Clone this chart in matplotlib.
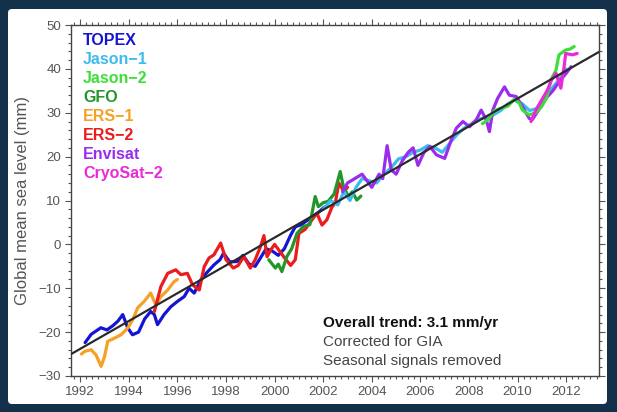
import matplotlib
matplotlib.use("Agg")
import matplotlib.pyplot as plt
from matplotlib.ticker import MultipleLocator
from matplotlib.patches import FancyBboxPatch

plt.rcParams['font.family'] = ['Liberation Sans', 'DejaVu Sans']

# ---------------- data ----------------
topex_t = [1992.2, 1992.45, 1992.85, 1993.1, 1993.35, 1993.55, 1993.75, 1993.95, 1994.15, 1994.4,
           1994.65, 1994.9, 1995.05, 1995.18, 1995.45, 1995.73, 1996.0, 1996.28, 1996.48, 1996.69,
           1996.96, 1997.2, 1997.5, 1997.75, 1997.9, 1998.15, 1998.46, 1998.7, 1998.95, 1999.2,
           1999.45, 1999.65, 1999.9, 2000.15, 2000.4, 2000.65, 2000.85, 2001.1, 2001.35, 2001.6,
           2001.85, 2002.05]
topex_v = [-22.4, -20.5, -19.0, -19.5, -18.5, -17.5, -16.0, -19.0, -20.6, -20.0,
           -17.0, -15.3, -16.0, -18.3, -16.0, -14.2, -13.0, -11.9, -10.0, -11.1,
           -8.1, -6.5, -4.7, -3.5, -2.0, -4.0, -3.9, -2.5, -4.5, -5.0,
           -2.8, -1.0, -1.5, -2.5, -1.0, 2.0, 4.0, 4.5, 5.5, 6.5,
           7.5, 8.5]

ers1_t = [1992.05, 1992.18, 1992.45, 1992.65, 1992.86, 1993.0, 1993.13, 1993.4, 1993.68, 1993.95,
          1994.16, 1994.36, 1994.63, 1994.9, 1995.11, 1995.32, 1995.6, 1995.86, 1996.0]
ers1_v = [-25.0, -24.4, -24.0, -25.2, -27.8, -25.6, -22.1, -21.4, -20.6, -19.1,
          -17.2, -14.5, -13.0, -11.1, -13.8, -11.9, -10.4, -8.5, -8.0]

ers2_t = [1995.05, 1995.32, 1995.6, 1995.93, 1996.14, 1996.41, 1996.62, 1996.9, 1997.1, 1997.3,
          1997.5, 1997.78, 1998.0, 1998.3, 1998.5, 1998.73, 1999.0, 1999.2, 1999.42, 1999.56,
          1999.69, 1999.85, 2000.0, 2000.2, 2000.4, 2000.66, 2000.85, 2001.0, 2001.25, 2001.5,
          2001.74, 2001.95, 2002.15, 2002.36, 2002.5, 2002.64, 2002.85, 2003.0]
ers2_v = [-15.3, -9.6, -6.6, -5.8, -6.9, -6.6, -9.2, -10.4, -5.1, -3.1,
          -2.4, 0.3, -3.5, -5.4, -4.8, -2.8, -5.4, -3.5, -0.5, 2.0,
          -2.8, -1.2, 0.0, -1.5, -3.0, -4.8, -3.5, 2.5, 3.4, 5.3,
          7.1, 4.4, 5.6, 8.5, 9.5, 14.0, 12.1, 13.0]

gfo_t = [1999.76, 2000.03, 2000.15, 2000.3, 2000.5, 2000.7, 2000.92, 2001.19, 2001.45, 2001.67,
         2001.8, 2002.0, 2002.2, 2002.45, 2002.7, 2002.83, 2003.04, 2003.2, 2003.38, 2003.55]
gfo_v = [-3.5, -5.4, -4.5, -6.2, -2.8, -1.0, 2.5, 4.1, 4.5, 10.9,
         8.6, 9.5, 9.8, 11.5, 16.6, 13.2, 10.9, 12.0, 10.1, 11.0]

jason1_t = [2002.0, 2002.3, 2002.6, 2002.85, 2003.1, 2003.35, 2003.6, 2003.9, 2004.2, 2004.5,
            2004.8, 2005.1, 2005.4, 2005.7, 2006.0, 2006.3, 2006.6, 2006.9, 2007.2, 2007.5,
            2007.8, 2008.1, 2008.4, 2008.7, 2009.0, 2009.3, 2009.6, 2009.9, 2010.2, 2010.5,
            2010.8, 2011.1, 2011.4, 2011.7, 2012.0]
jason1_v = [8.0, 10.0, 9.0, 12.0, 10.0, 13.0, 15.0, 14.5, 14.0, 16.0,
            17.5, 19.5, 20.0, 21.0, 21.5, 22.5, 22.0, 21.0, 23.0, 25.0,
            26.5, 27.5, 28.5, 29.0, 29.5, 30.5, 32.0, 33.0, 32.0, 30.5,
            31.0, 33.5, 35.5, 37.5, 40.0]

envisat_t = [2002.8, 2003.0, 2003.3, 2003.6, 2004.0, 2004.3, 2004.45, 2004.63, 2004.8, 2005.0,
             2005.25, 2005.5, 2005.7, 2005.9, 2006.15, 2006.39, 2006.66, 2007.0, 2007.27, 2007.48,
             2007.75, 2008.02, 2008.3, 2008.5, 2008.71, 2008.84, 2008.98, 2009.18, 2009.46, 2009.66,
             2009.94, 2010.2, 2010.48, 2010.6, 2010.96, 2011.2, 2011.45, 2011.7, 2012.0, 2012.2]
envisat_v = [12.0, 14.0, 15.0, 16.0, 13.0, 16.0, 15.0, 22.5, 17.0, 16.0,
             19.0, 21.0, 22.0, 18.0, 21.0, 22.3, 20.4, 19.6, 23.8, 26.5,
             28.0, 26.8, 28.4, 30.6, 28.4, 25.7, 30.6, 33.3, 35.9, 34.0,
             33.7, 31.4, 28.7, 28.4, 31.4, 33.5, 35.0, 37.0, 39.0, 40.5]

jason2_t = [2008.55, 2008.8, 2009.05, 2009.3, 2009.6, 2009.85, 2010.07, 2010.2, 2010.48, 2010.75,
            2011.0, 2011.2, 2011.37, 2011.58, 2011.7, 2011.98, 2012.15, 2012.33]
jason2_v = [27.5, 28.5, 30.5, 31.0, 31.5, 33.0, 32.2, 30.6, 29.5, 30.0,
            31.5, 33.5, 37.5, 39.7, 43.2, 44.3, 44.5, 45.1]

cryosat_t = [2010.55, 2010.75, 2011.0, 2011.23, 2011.4, 2011.58, 2011.78, 2011.9, 2011.98, 2012.26,
             2012.45]
cryosat_v = [28.0, 30.6, 33.0, 35.2, 37.5, 39.0, 35.6, 40.0, 43.5, 43.2,
             43.5]

missions = ["TOPEX", "Jason\u22121", "Jason\u22122", "GFO", "ERS\u22121", "ERS\u22122", "Envisat", "CryoSat\u22122"]
colors = ["#1414d2", "#3cbcee", "#3ede3a", "#23962a", "#f5a126", "#ea1c1c", "#9a2ced", "#ea2ad6"]
series = [(topex_t, topex_v), (jason1_t, jason1_v), (jason2_t, jason2_v), (gfo_t, gfo_v),
          (ers1_t, ers1_v), (ers2_t, ers2_v), (envisat_t, envisat_v), (cryosat_t, cryosat_v)]
draw_order = [0, 4, 5, 3, 1, 6, 2, 7]

trend_slope = 3.17      # mm/yr as drawn
trend_at_2000 = 1.55    # mm
x_limits = (1991.62, 2013.35)
y_limits = (-30, 50)

notes = ["Overall trend: 3.1 mm/yr", "Corrected for GIA", "Seasonal signals removed"]

# ---------------- figure ----------------
W, H = 617, 412
fig = plt.figure(figsize=(W / 100, H / 100), dpi=100)
fig.patch.set_facecolor("#12304a")

bg = fig.add_axes([0, 0, 1, 1], zorder=-5)
bg.set_xlim(0, W)
bg.set_ylim(H, 0)
bg.axis("off")
bg.add_patch(FancyBboxPatch((8, 9), 599, 395, boxstyle="round,pad=0,rounding_size=4",
                            facecolor="white", edgecolor="none"))

ax = fig.add_axes([71 / W, (H - 376) / H, (599 - 71) / W, (376 - 25) / H], zorder=1)
ax.set_facecolor("white")

for idx in draw_order:
    t, v = series[idx]
    ax.plot(t, v, color=colors[idx], lw=2.3, solid_joinstyle="round", solid_capstyle="round", zorder=3)

tx = list(x_limits)
ty = [trend_at_2000 + trend_slope * (x - 2000) for x in tx]
ax.plot(tx, ty, color="#2a2a2a", lw=1.6, zorder=4)

ax.set_xlim(*x_limits)
ax.set_ylim(*y_limits)

ax.xaxis.set_major_locator(MultipleLocator(2))
ax.xaxis.set_minor_locator(MultipleLocator(0.25))
ax.yaxis.set_major_locator(MultipleLocator(10))
ax.yaxis.set_minor_locator(MultipleLocator(2))
ax.tick_params(which="both", direction="out", top=True, right=True, color="#555555",
               labelcolor="#555555", labelsize=9.5, width=0.8)
ax.tick_params(which="major", length=4, pad=3)
ax.tick_params(which="minor", length=2.2)
for s in ax.spines.values():
    s.set_color("#444444")
    s.set_linewidth(1.0)

ax.set_ylabel("Global mean sea level (mm)", fontsize=12, color="#555555", labelpad=6)

for i, name in enumerate(missions):
    ax.text(0.023, 0.957 - i * 0.0545, name, transform=ax.transAxes, color=colors[i],
            fontsize=11.5, fontweight="bold", va="center", ha="left")

for i, line in enumerate(notes):
    ax.text(0.477, 0.15 - i * 0.053, line, transform=ax.transAxes,
            color="#111111" if i == 0 else "#444444", fontsize=11,
            fontweight="bold" if i == 0 else "normal", va="center", ha="left")

fig.savefig("out.png", dpi=100, facecolor=fig.get_facecolor())
